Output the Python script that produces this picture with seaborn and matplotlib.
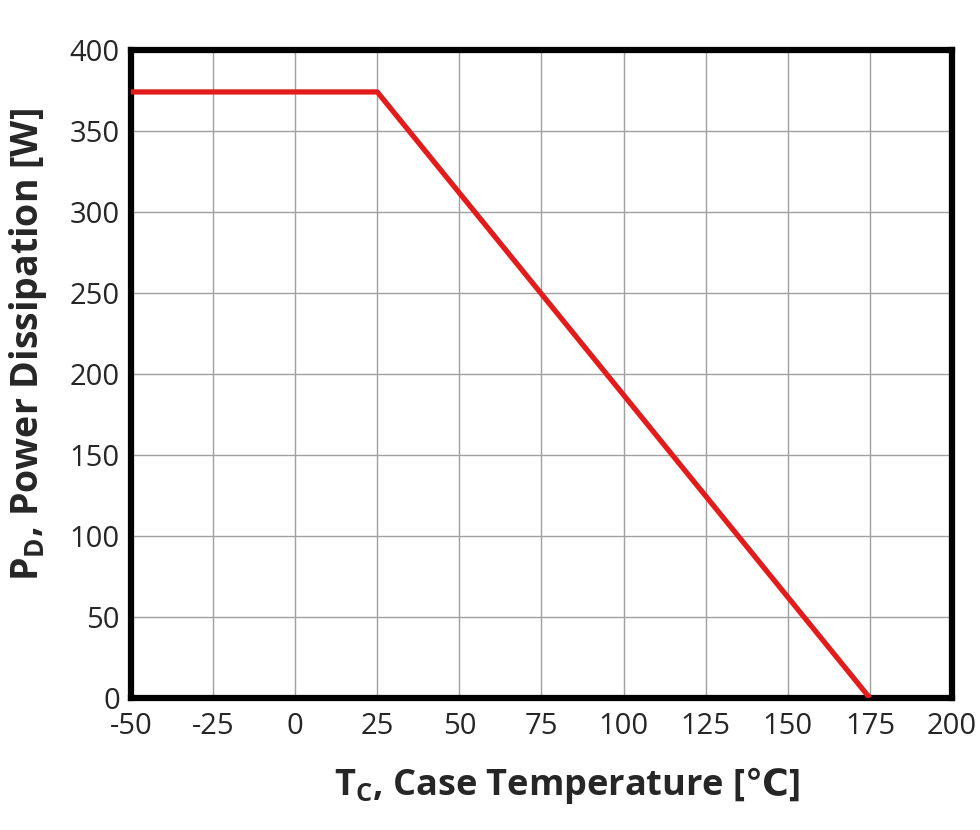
import matplotlib
matplotlib.use('Agg')
import matplotlib.pyplot as plt
import seaborn as sns
import pandas as pd

# derating curve
temp_c = [-50, 25, 175]
power_w = [374, 374, 0]

x_ticks = [-50, -25, 0, 25, 50, 75, 100, 125, 150, 175, 200]
y_ticks = [0, 50, 100, 150, 200, 250, 300, 350, 400]

sns.set_style('white')
plt.rcParams['font.family'] = ['Open Sans', 'DejaVu Sans']
plt.rcParams['axes.unicode_minus'] = False
plt.rcParams['mathtext.fontset'] = 'custom'
plt.rcParams['mathtext.rm'] = 'Open Sans'
plt.rcParams['mathtext.bf'] = 'Open Sans:bold'
plt.rcParams['mathtext.sf'] = 'DejaVu Sans:bold'

df = pd.DataFrame({'temp': temp_c, 'power': power_w})

fig = plt.figure(figsize=(9.8, 8.3), dpi=100)
ax = fig.add_axes([0.1337, 0.159, 0.8377, 0.781])

sns.lineplot(data=df, x='temp', y='power', ax=ax, color='#e31b1b', linewidth=3.8,
             solid_capstyle='butt', zorder=3)

ax.set_xlim(-50, 200)
ax.set_ylim(0, 400)
ax.set_xticks(x_ticks)
ax.set_yticks(y_ticks)
ax.tick_params(axis='both', length=0, labelsize=21)
ax.tick_params(axis='x', pad=10)
ax.tick_params(axis='y', pad=8)
ax.grid(True, color='#a0a0a0', linewidth=1)
for s in ax.spines.values():
    s.set_linewidth(4.5)
    s.set_color('black')
    s.set_visible(True)

ax.set_xlabel(r'$\mathbf{T}_\mathbf{C}$, Case Temperature [$\mathsf{℃}$]', fontsize=26,
              fontweight='bold')
ax.set_ylabel(r'$\mathbf{P}_\mathbf{D}$, Power Dissipation [W]', fontsize=27,
              fontweight='bold')
ax.xaxis.set_label_coords(0.531, -0.104)
ax.yaxis.set_label_coords(-0.1, 0.545)

fig.savefig('out.png', dpi=100)
